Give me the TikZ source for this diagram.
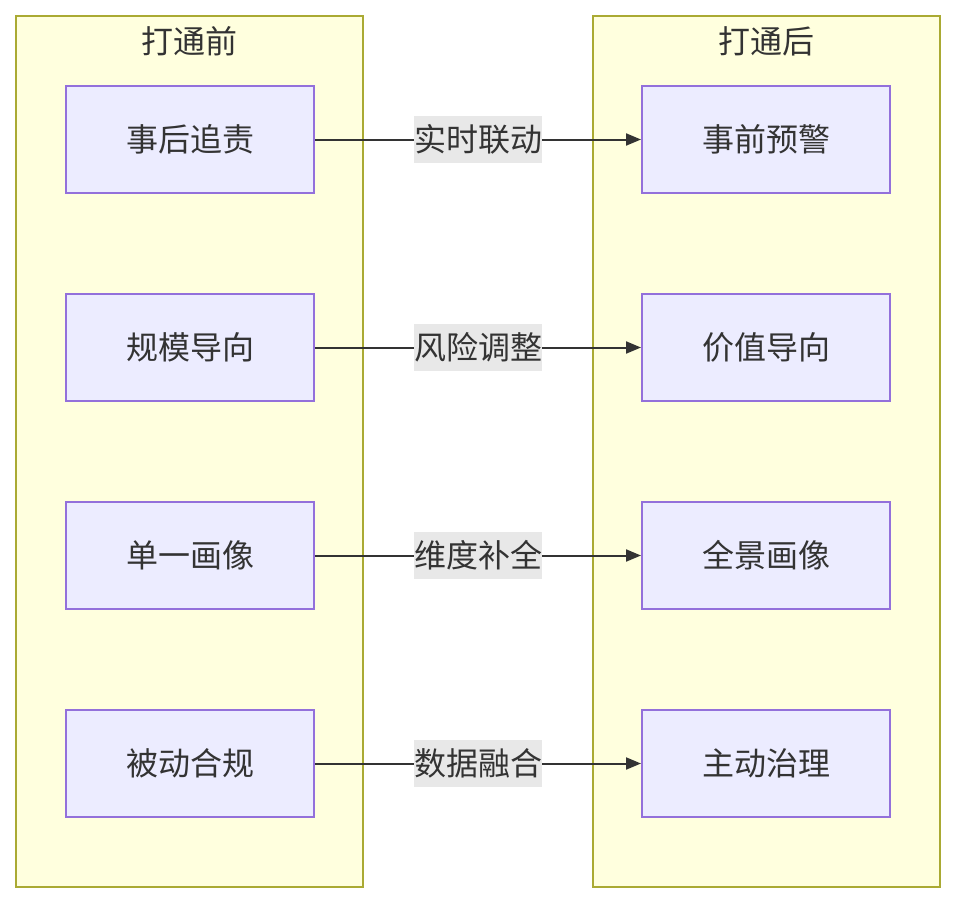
\documentclass[tikz,border=0pt]{standalone}
\usepackage{fontspec}
\newfontfamily\cjk{Noto Sans CJK SC}
\usetikzlibrary{arrows.meta, positioning}

\definecolor{clusterfill}{HTML}{FFFFDE}
\definecolor{clusterline}{HTML}{AAAA33}
\definecolor{boxfill}{HTML}{ECECFF}
\definecolor{boxline}{HTML}{9370DB}
\definecolor{textgray}{HTML}{333333}
\definecolor{labelfill}{HTML}{E8E8E8}

\begin{document}
\begin{tikzpicture}[
x=0.5pt, y=-0.5pt,
node distance=49.5pt and 163pt,
font=\cjk\fontsize{16}{19}\selectfont, text=textgray,
% Define block styles
cluster/.style = {rectangle, minimum width=173.5pt, minimum height=435.5pt, draw=clusterline, fill=clusterfill, line width=1pt},
title/.style = {inner sep=0pt},
process/.style = {rectangle, minimum width=124pt, minimum height=53.5pt, text centered, draw=boxline, fill=boxfill, line width=1pt},
edgelabel/.style = {fill=labelfill, inner xsep=0pt, minimum height=23.5pt},
arrow/.style = {line width=1pt, draw=textgray, -{Triangle[length=7.5pt,width=6pt]}}
]
\useasboundingbox (0,0) rectangle (956,904);

% Clusters
\node (before) [cluster] at (189.5,451.5) {};
\node (after) [cluster] at (766,451.5) {};
\node (beforeTitle) [title] at (189.5,41) {打通前};
\node (afterTitle) [title] at (766,41) {打通后};

% Before nodes
\node (afterBlame) [process] at (190,139.5) {事后追责};
\node (scaleFirst) [process, below=of afterBlame] {规模导向};
\node (singleView) [process, below=of scaleFirst] {单一画像};
\node (passive) [process, below=of singleView] {被动合规};

% After nodes
\node (earlyWarn) [process, right=of afterBlame] {事前预警};
\node (valueFirst) [process, right=of scaleFirst] {价值导向};
\node (fullView) [process, right=of singleView] {全景画像};
\node (active) [process, right=of passive] {主动治理};

% Arrows
\draw [arrow] (afterBlame) -- node[edgelabel] {实时联动} (earlyWarn);
\draw [arrow] (scaleFirst) -- node[edgelabel] {风险调整} (valueFirst);
\draw [arrow] (singleView) -- node[edgelabel] {维度补全} (fullView);
\draw [arrow] (passive) -- node[edgelabel] {数据融合} (active);
\end{tikzpicture}
\end{document}
